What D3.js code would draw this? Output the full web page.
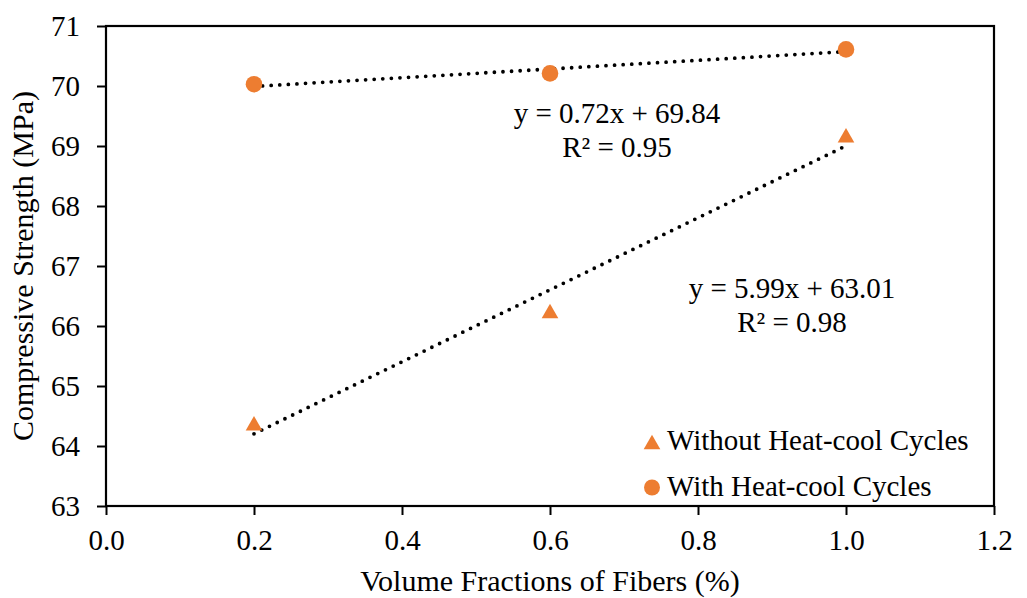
<!DOCTYPE html>
<html>
<head>
<meta charset="utf-8">
<script src="https://cdn.jsdelivr.net/npm/d3@7"></script>
<style>
body { margin: 0; background: #fff; }
text { font-family: "Liberation Serif", "Times New Roman", serif; fill: #000; }
</style>
</head>
<body>
<div id="chart-area"></div>
<script>
// data
var fractions = [0.2, 0.6, 1.0];
var withoutCycles = [64.38, 66.25, 69.18];
var withCycles = [70.03, 70.21, 70.61];
var xTicks = [0.0, 0.2, 0.4, 0.6, 0.8, 1.0, 1.2];
var yTicks = [63, 64, 65, 66, 67, 68, 69, 70, 71];
var seriesNames = ["Without Heat-cool Cycles", "With Heat-cool Cycles"];
var eqWith = ["y = 0.72x + 69.84", "R² = 0.95"];
var eqWithout = ["y = 5.99x + 63.01", "R² = 0.98"];

var margin = { left: 106, right: 33, top: 26, bottom: 92 };
var width = 1027 - margin.left - margin.right,
    height = 598 - margin.top - margin.bottom;
var orange = "#ED7D31";

var svg = d3.select("#chart-area")
    .append("svg")
    .attr("width", 1027)
    .attr("height", 598);

var g = svg.append("g")
    .attr("transform", "translate(" + margin.left + ", " + margin.top + ")");

var x = d3.scaleLinear().domain([0, 1.2]).range([0, width]);
var y = d3.scaleLinear().domain([63, 71]).range([height, 0]);

// axes
var xAxisCall = d3.axisBottom(x)
    .tickValues(xTicks)
    .tickSize(9)
    .tickFormat(d3.format(".1f"));
var xAx = g.append("g")
    .attr("transform", "translate(0, " + height + ")")
    .call(xAxisCall);
xAx.select(".domain").remove();
xAx.selectAll("line").attr("stroke", "#000").attr("stroke-width", 2);
xAx.selectAll("text")
    .attr("y", 44)
    .attr("dy", 0)
    .attr("font-size", "29px")
    .style("font-family", "Liberation Serif");

var yAxisCall = d3.axisLeft(y)
    .tickValues(yTicks)
    .tickSize(9)
    .tickFormat(d3.format("d"));
var yAx = g.append("g").call(yAxisCall);
yAx.select(".domain").remove();
yAx.selectAll("line").attr("stroke", "#000").attr("stroke-width", 2);
yAx.selectAll("text")
    .attr("x", -26)
    .attr("font-size", "29px")
    .style("font-family", "Liberation Serif");

// frame
g.append("rect")
    .attr("x", 0)
    .attr("y", 0)
    .attr("width", width)
    .attr("height", height)
    .attr("fill", "none")
    .attr("stroke", "#000")
    .attr("stroke-width", 2.2);

// axis labels
g.append("text")
    .attr("x", width / 2)
    .attr("y", height + 85)
    .attr("font-size", "30px")
    .attr("text-anchor", "middle")
    .text("Volume Fractions of Fibers (%)");

g.append("text")
    .attr("x", -(height / 2))
    .attr("y", -73)
    .attr("font-size", "30px")
    .attr("text-anchor", "middle")
    .attr("transform", "rotate(-90)")
    .text("Compressive Strength (MPa)");

// linear trend lines (least squares)
function fit(xs, ys) {
    var mx = d3.mean(xs), my = d3.mean(ys);
    var sxy = d3.sum(xs, function (d, i) { return (d - mx) * (ys[i] - my); });
    var sxx = d3.sum(xs, function (d) { return (d - mx) * (d - mx); });
    var b = sxy / sxx;
    return { slope: b, intercept: my - b * mx };
}

[withoutCycles, withCycles].forEach(function (ys) {
    var f = fit(fractions, ys);
    var x0 = d3.min(fractions), x1 = d3.max(fractions);
    g.append("line")
        .attr("x1", x(x0))
        .attr("y1", y(f.intercept + f.slope * x0))
        .attr("x2", x(x1))
        .attr("y2", y(f.intercept + f.slope * x1))
        .attr("stroke", "#000")
        .attr("stroke-width", 3.8)
        .attr("stroke-linecap", "round")
        .attr("stroke-dasharray", "0, 8.6");
});

// points (triangles are centred on their bounding box, like Excel)
var triSize = 120;
var triShift = Math.sqrt(triSize / (3 * Math.sqrt(3))) / 2;
var tri = d3.symbol().type(d3.symbolTriangle).size(triSize);
g.selectAll(".tri")
    .data(fractions)
    .enter()
    .append("path")
    .attr("class", "tri")
    .attr("d", tri)
    .attr("transform", function (d, i) {
        return "translate(" + x(d) + ", " + (y(withoutCycles[i]) + triShift) + ")";
    })
    .attr("fill", orange);

g.selectAll(".dot")
    .data(fractions)
    .enter()
    .append("circle")
    .attr("class", "dot")
    .attr("cx", function (d) { return x(d); })
    .attr("cy", function (d, i) { return y(withCycles[i]); })
    .attr("r", 8.3)
    .attr("fill", orange);

// equations
function equation(lines, cx, by) {
    lines.forEach(function (t, i) {
        g.append("text")
            .attr("x", cx - margin.left)
            .attr("y", by - margin.top + i * 33.5)
            .attr("font-size", "29px")
            .attr("text-anchor", "middle")
            .text(t);
    });
}
equation(eqWith, 617, 123);
equation(eqWithout, 792, 298);

// legend
var legend = g.append("g")
    .attr("transform", "translate(" + (652 - margin.left) + ", " + (442 - margin.top) + ")");
legend.append("path")
    .attr("d", tri)
    .attr("transform", "translate(0, " + triShift + ")")
    .attr("fill", orange);
legend.append("circle")
    .attr("cx", 0)
    .attr("cy", 45.5)
    .attr("r", 8)
    .attr("fill", orange);
legend.selectAll("text")
    .data(seriesNames)
    .enter()
    .append("text")
    .attr("x", 15)
    .attr("y", function (d, i) { return 8 + i * 46; })
    .attr("font-size", "29px")
    .text(function (d) { return d; });
</script>
</body>
</html>
